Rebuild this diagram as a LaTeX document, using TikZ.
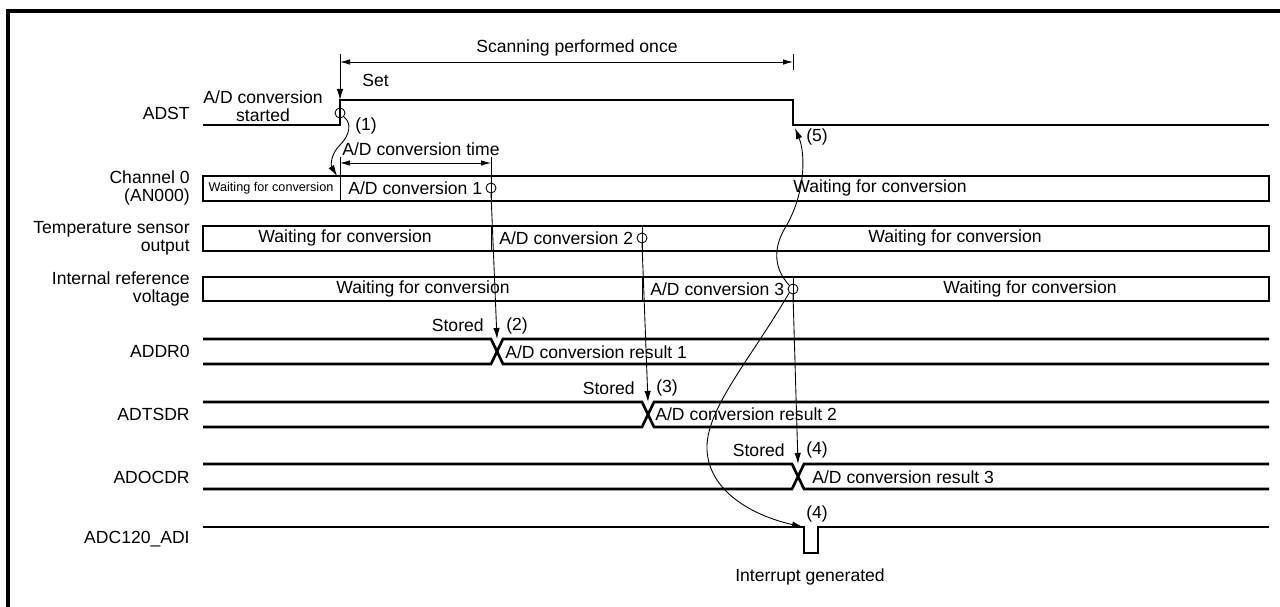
\documentclass[tikz,border=0pt]{standalone}
\usepackage{fontspec}
\setmainfont{Liberation Sans}
\usetikzlibrary{arrows.meta, calc}

\begin{document}
\begin{tikzpicture}[
    x=0.02cm, y=-0.02cm,
    lbl/.style={font=\fontsize{10}{10}\selectfont, inner sep=0pt},
    small/.style={font=\fontsize{7.2}{8}\selectfont, inner sep=0pt},
    sig/.style={line width=1.5pt},
    frame/.style={line width=1.8pt},
    thinline/.style={line width=0.5pt},
    arrow/.style={-{Latex[length=2.2mm,width=1.3mm]}, line width=0.5pt},
    dim/.style={{Latex[length=2mm,width=1.1mm]}-{Latex[length=2mm,width=1.1mm]}, line width=0.5pt},
    ring/.style={circle, draw, line width=0.5pt, minimum size=0.2cm, inner sep=0pt}
  ]

    \useasboundingbox (0,0) rectangle (1280,607);
    \draw[frame] (8,607) -- (8,11) -- (1280,11);

    % signal names
    \node[lbl, anchor=east, align=right] (nADST) at (190,113) {ADST};
    \node[lbl, anchor=east, align=right] (nCH0) at (190,188) {Channel 0\\(AN000)};
    \node[lbl, anchor=east, align=right] (nTMP) at (190,238) {Temperature sensor\\output};
    \node[lbl, anchor=east, align=right] (nREF) at (190,289) {Internal reference\\voltage};
    \node[lbl, anchor=east, align=right] (nDR0) at (190,351) {ADDR0};
    \node[lbl, anchor=east, align=right] (nTSD) at (190,414) {ADTSDR};
    \node[lbl, anchor=east, align=right] (nOCD) at (190,477) {ADOCDR};
    \node[lbl, anchor=east, align=right] (nADI) at (190,539) {ADC120\_ADI};

    % ADST
    \coordinate (rise) at (340,100);
    \coordinate (fall) at (793,125);
    \draw[sig] (203,125) -- (340,125) -- (rise) -- (793,100) -- (fall) -- (1269,125);
    \node[lbl, align=center] (started) at (263,106) {A/D conversion\\started};
    \node[lbl, anchor=west] (set) at (362,80) {Set};
    \coordinate (setTop) at (340,68);
    \draw[thinline] (340,54) -- (setTop);
    \draw[arrow] (setTop) -- (rise);
    \node[ring] (c0) at (340,113) {};

    % scanning
    \coordinate (scanL) at (340,62);
    \coordinate (scanR) at (793,62);
    \draw[thinline] (793,54) -- (793,70);
    \draw[dim] (scanL) -- (scanR);
    \node[lbl] (scan) at (577,48) {Scanning performed once};

    % channel 0
    \draw[sig] (203,176) rectangle (1269,201);
    \draw[thinline] (340,157) -- (340,201);
    \draw[thinline] (491,157) -- (491,201);
    \coordinate (convL) at (340,163);
    \coordinate (convR) at (491,163);
    \draw[dim] (convL) -- (convR);
    \node[lbl, anchor=west] (ctime) at (342,149) {A/D conversion time};
    \node[small] (w0) at (271,188) {Waiting for conversion};
    \node[lbl, anchor=west] (ad1) at (348,188) {A/D conversion 1};
    \node[ring] (c1) at (491,188) {};
    \node[lbl] (w1) at (880,188) {Waiting for conversion};

    % temperature sensor
    \draw[sig] (203,226) rectangle (1269,251);
    \draw[thinline] (491,226) -- (491,251);
    \draw[thinline] (642,226) -- (642,251);
    \node[lbl] (w2) at (345,238) {Waiting for conversion};
    \node[lbl, anchor=west] (ad2) at (499,238) {A/D conversion 2};
    \node[ring] (c2) at (642,238) {};
    \node[lbl] (w3) at (955,238) {Waiting for conversion};

    % internal reference
    \draw[sig] (203,277) rectangle (1269,301);
    \draw[thinline] (642,277) -- (642,301);
    \draw[thinline] (793,277) -- (793,301);
    \node[lbl] (w4) at (423,289) {Waiting for conversion};
    \node[lbl, anchor=west] (ad3) at (650,289) {A/D conversion 3};
    \node[ring] (c3) at (793,289) {};
    \node[lbl] (w5) at (1030,289) {Waiting for conversion};

    % result registers
    \coordinate (x1) at (497,339);
    \coordinate (x2) at (648,402);
    \coordinate (x3) at (798,464);
    \draw[sig] (203,339) -- (491,339) -- (503,364) -- (1269,364);
    \draw[sig] (203,364) -- (491,364) -- (503,339) -- (1269,339);
    \draw[sig] (203,402) -- (642,402) -- (654,427) -- (1269,427);
    \draw[sig] (203,427) -- (642,427) -- (654,402) -- (1269,402);
    \draw[sig] (203,464) -- (792,464) -- (804,489) -- (1269,489);
    \draw[sig] (203,489) -- (792,489) -- (804,464) -- (1269,464);
    \node[lbl, anchor=west] (r1) at (505,352) {A/D conversion result 1};
    \node[lbl, anchor=west] (r2) at (655,414) {A/D conversion result 2};
    \node[lbl, anchor=west] (r3) at (812,477) {A/D conversion result 3};
    \node[lbl, anchor=east] (st1) at (484,325) {Stored};
    \node[lbl, anchor=east] (st2) at (635,388) {Stored};
    \node[lbl, anchor=east] (st3) at (785,450) {Stored};
    \node[lbl, anchor=west] (n2) at (506,326) {(2)};
    \node[lbl, anchor=west] (n3) at (656,388) {(3)};
    \node[lbl, anchor=west] (n4) at (806,450) {(4)};

    % interrupt
    \coordinate (pulse) at (803,527);
    \draw[sig] (203,527) -- (804,527) -- (804,553) -- (818,553) -- (818,527) -- (1269,527);
    \node[lbl, anchor=west] (n4b) at (806,514) {(4)};
    \node[lbl] (irq) at (810,577) {Interrupt generated};

    % flow arrows
    \coordinate (ch0in) at (337,176);
    \coordinate (adstlow) at (795,128);
    \node[lbl, anchor=west] (n1) at (355,126) {(1)};
    \node[lbl, anchor=west] (n5) at (806,137) {(5)};
    \draw[arrow] (c0.south east) .. controls (352,123) and (350,135) .. (340,145)
      .. controls (330,155) and (331,166) .. (ch0in);
    \draw[arrow] (c1.south) -- (x1);
    \draw[arrow] (c2.south) -- (x2);
    \draw[arrow] (c3.south) -- (x3);
    \draw[arrow] (c3.north west) .. controls (775,270) and (772,250) .. (785,228)
      .. controls (805,195) and (806,155) .. (adstlow);
    \draw[arrow] (c3.south west) .. controls (750,360) and (705,410) .. (707,450)
      .. controls (709,490) and (750,515) .. (pulse);
\end{tikzpicture}
\end{document}
